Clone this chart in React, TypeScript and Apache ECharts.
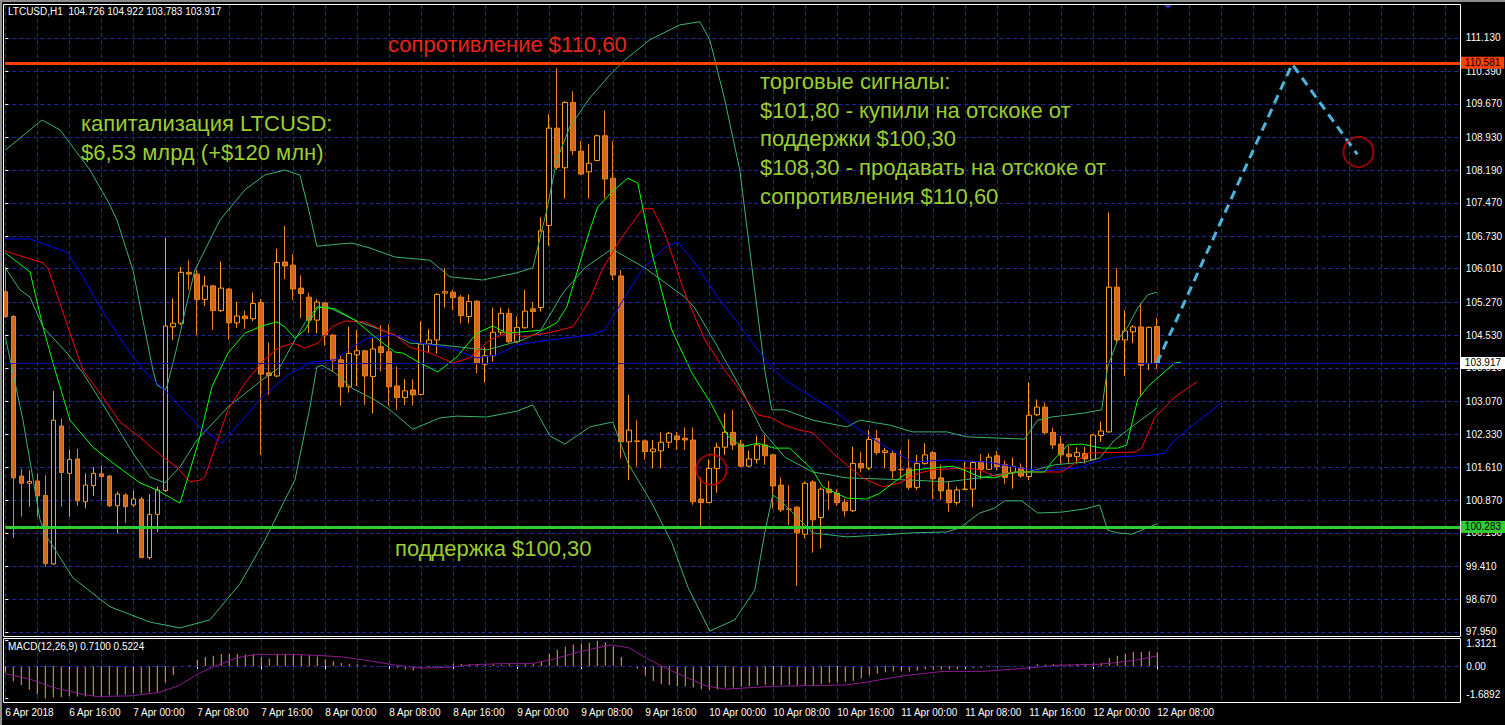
import React, { useEffect, useRef } from 'react';
import * as echarts from 'echarts';

// ---------- data ----------
// hourly LTCUSD candles, 6 Apr 2018 08:00 .. 12 Apr 2018 08:00: [open, close, low, high]
const candles: number[][] = [
  [105.50, 104.95, 104.92, 106.05], [104.95, 101.37, 100.04, 104.98], [101.41, 101.25, 100.51, 101.57], [101.25, 101.29, 100.73, 101.54],
  [101.30, 100.97, 100.51, 101.47], [100.98, 99.47, 99.40, 101.43], [99.46, 102.65, 99.44, 103.30], [102.52, 101.49, 100.73, 102.68],
  [101.47, 101.78, 100.51, 101.99], [101.79, 100.86, 100.75, 102.01], [100.84, 101.21, 100.69, 101.47], [101.20, 101.47, 100.97, 101.61],
  [101.46, 101.40, 100.86, 101.65], [101.41, 100.75, 100.72, 101.43], [100.75, 101.01, 100.14, 101.06], [100.99, 100.73, 100.37, 101.03],
  [100.77, 100.90, 100.72, 101.09], [100.90, 99.60, 99.59, 100.95], [99.60, 100.56, 99.56, 101.01], [100.56, 101.10, 100.17, 101.17],
  [101.09, 104.74, 101.06, 106.70], [104.72, 104.80, 104.43, 105.35], [104.80, 105.93, 104.76, 106.05], [105.93, 105.89, 105.54, 106.20],
  [105.89, 105.33, 104.54, 105.99], [105.33, 105.63, 105.18, 105.85], [105.63, 105.08, 104.65, 105.65], [105.08, 105.58, 105.05, 106.17],
  [105.56, 104.81, 104.43, 105.58], [104.81, 104.96, 104.70, 105.28], [104.96, 104.90, 104.68, 105.08], [104.90, 105.24, 104.85, 105.48],
  [105.26, 103.67, 101.88, 105.34], [103.70, 103.64, 103.21, 104.37], [103.63, 106.15, 103.60, 106.45], [106.16, 106.07, 105.78, 106.96],
  [106.09, 105.56, 105.32, 106.34], [105.58, 105.46, 104.92, 105.87], [105.38, 104.87, 104.58, 105.48], [104.87, 105.27, 104.58, 105.33],
  [105.25, 104.54, 104.30, 105.27], [104.54, 103.97, 103.73, 104.56], [103.99, 103.39, 102.97, 104.10], [103.39, 104.13, 103.26, 104.72],
  [104.10, 104.19, 103.41, 104.65], [104.19, 103.63, 102.99, 104.21], [103.62, 104.23, 102.80, 104.47], [104.28, 104.15, 103.73, 104.76],
  [104.17, 103.39, 102.97, 104.78], [103.41, 103.15, 102.88, 103.84], [103.15, 103.30, 102.99, 103.56], [103.32, 103.21, 102.97, 103.56],
  [103.22, 104.34, 103.20, 104.84], [104.34, 104.43, 104.15, 104.67], [104.43, 105.44, 104.12, 105.47], [105.47, 105.50, 105.15, 106.02],
  [105.49, 105.37, 105.09, 105.55], [105.38, 104.97, 104.80, 105.43], [104.95, 105.28, 104.80, 105.44], [105.29, 103.91, 103.69, 105.31],
  [103.89, 104.08, 103.48, 104.27], [104.08, 104.60, 103.95, 105.15], [104.60, 105.02, 104.54, 105.15], [105.02, 104.39, 104.36, 105.13],
  [104.39, 104.71, 104.36, 104.95], [104.70, 105.07, 104.68, 105.54], [105.12, 105.06, 104.70, 105.27], [105.15, 106.85, 105.06, 107.15],
  [106.97, 109.13, 106.52, 109.44], [109.13, 108.26, 108.20, 110.46], [108.25, 109.70, 107.57, 109.73], [109.70, 108.63, 108.53, 109.95],
  [108.62, 108.11, 108.09, 108.84], [108.16, 108.35, 107.57, 108.78], [108.41, 108.96, 108.40, 108.99], [108.96, 108.00, 107.57, 109.52],
  [108.02, 105.87, 105.76, 108.84], [105.85, 102.17, 101.80, 105.98], [102.17, 102.43, 101.32, 103.21], [102.19, 102.18, 101.62, 102.65],
  [102.19, 101.95, 101.77, 102.22], [101.95, 102.01, 101.58, 102.21], [101.97, 102.16, 101.58, 102.38], [102.16, 102.36, 102.03, 102.39],
  [102.30, 102.22, 101.99, 102.39], [102.25, 102.21, 101.99, 102.49], [102.21, 100.84, 100.77, 102.49], [100.90, 100.82, 100.30, 101.38],
  [100.82, 101.58, 100.81, 101.78], [101.58, 102.05, 101.04, 102.15], [102.05, 102.38, 101.88, 102.80], [102.38, 102.10, 101.99, 102.88],
  [102.12, 101.63, 101.60, 102.21], [101.63, 101.79, 101.61, 101.97], [101.78, 102.10, 101.69, 102.30], [102.10, 101.86, 101.66, 102.32],
  [101.88, 101.19, 100.69, 101.90], [101.21, 100.66, 100.61, 101.38], [100.68, 100.67, 100.32, 101.21], [100.72, 100.15, 98.97, 100.74],
  [100.12, 101.25, 100.03, 101.29], [101.28, 100.44, 99.71, 101.32], [100.49, 101.12, 99.80, 101.16], [101.12, 101.04, 100.66, 101.30],
  [101.03, 100.82, 100.75, 101.12], [100.83, 100.64, 100.51, 100.91], [100.64, 101.69, 100.61, 102.06], [101.69, 101.59, 101.49, 101.95],
  [101.59, 102.22, 101.54, 102.43], [102.24, 101.93, 101.88, 102.43], [101.93, 101.97, 101.58, 102.04], [101.91, 101.53, 101.35, 101.99],
  [101.56, 101.55, 101.34, 101.99], [101.57, 101.16, 101.10, 102.23], [101.16, 101.69, 101.10, 101.88], [101.69, 101.88, 101.66, 102.14],
  [101.93, 101.35, 100.90, 101.97], [101.37, 101.08, 100.88, 101.66], [101.10, 100.82, 100.62, 101.29], [100.82, 101.10, 100.77, 101.17],
  [101.11, 101.12, 101.10, 101.73], [101.12, 101.71, 100.72, 101.75], [101.73, 101.56, 101.34, 101.90], [101.56, 101.83, 101.54, 101.91],
  [101.86, 101.62, 101.54, 101.97], [101.66, 101.38, 101.23, 101.75], [101.48, 101.62, 101.13, 101.82], [101.60, 101.41, 101.37, 101.69],
  [101.40, 102.76, 101.32, 103.49], [102.77, 102.94, 102.74, 103.11], [102.94, 102.37, 102.34, 103.04], [102.38, 102.10, 102.01, 102.49],
  [102.12, 101.88, 101.69, 102.30], [101.90, 101.84, 101.69, 102.08], [101.84, 101.93, 101.69, 102.05], [101.91, 101.79, 101.69, 102.06],
  [101.78, 102.32, 101.77, 102.34], [102.31, 102.41, 102.17, 102.62], [102.39, 105.60, 102.37, 107.26], [105.60, 104.43, 104.36, 106.02],
  [104.43, 104.63, 103.63, 105.09], [104.61, 104.72, 104.36, 104.76], [104.72, 103.87, 103.19, 105.24], [103.91, 104.71, 103.76, 104.73],
  [104.726, 103.917, 103.783, 104.922],
];

// Bollinger bands, [bar index, price]
const bbUpper: number[][] = [
  [0, 108.64], [4.59, 109.31], [6.84, 109.09], [10.59, 108.20], [13.09, 107.42], [13.96, 107.09], [15.96, 105.98], [17.21, 104.87],
  [18.46, 103.76], [18.96, 103.43], [19.96, 103.32], [20.21, 103.39], [21.46, 104.27], [22.71, 105.25], [23.71, 105.98], [26.84, 107.09],
  [29.96, 107.76], [32.46, 108.09], [34.96, 108.20], [36.84, 108.09], [38.09, 107.20], [38.96, 106.51], [41.84, 106.56], [43.34, 106.58],
  [45.59, 106.47], [48.71, 106.27], [53.09, 106.20], [55.59, 105.83], [59.71, 105.76], [63.96, 105.92], [65.96, 106.03], [67.71, 107.31],
  [68.96, 108.42], [70.59, 109.16], [73.09, 109.80], [75.59, 110.31], [77.46, 110.64], [80.59, 111.09], [84.34, 111.42], [86.84, 111.49],
  [88.09, 111.09], [89.96, 109.76], [91.84, 108.20], [93.71, 105.54], [94.96, 103.76], [95.84, 102.88], [97.46, 102.88], [100.96, 102.65],
  [105.21, 102.50], [106.84, 102.65], [110.59, 102.54], [113.46, 102.39], [117.71, 102.39], [120.21, 102.28], [127.46, 102.23], [129.09, 102.65],
  [130.84, 102.72], [134.96, 102.81], [137.09, 102.88], [137.84, 103.83], [139.09, 104.43], [140.34, 104.72], [141.59, 105.14], [142.84, 105.43],
  [144, 105.49],
];
const bbMiddle: number[][] = [
  [0, 106.03], [1.84, 105.54], [3.09, 105.38], [4.71, 104.72], [7.71, 104.14], [9.71, 103.70], [11.84, 103.10], [13.96, 102.50],
  [15.96, 101.92], [18.09, 101.39], [19.96, 101.26], [21.84, 101.61], [23.96, 102.21], [27.84, 102.94], [32.09, 103.54], [34.34, 103.83],
  [36.21, 104.43], [37.46, 104.81], [38.96, 105.16], [40.34, 105.16], [43.71, 104.87], [48.71, 104.54], [50.59, 104.36], [54.34, 104.32],
  [60.21, 104.21], [64.71, 104.43], [66.84, 104.61], [69.71, 105.47], [72.46, 106.03], [75.84, 106.45], [79.96, 106.03], [84.96, 105.38],
  [86.21, 105.14], [89.09, 104.27], [92.09, 103.32], [94.59, 102.43], [97.46, 101.83], [100.96, 101.50], [105.21, 101.37], [113.46, 101.32],
  [117.71, 101.28], [121.84, 101.37], [125.34, 101.48], [127.84, 101.50], [131.21, 101.66], [134.96, 101.72], [136.84, 101.81], [138.71, 102.21],
  [140.84, 102.50], [144, 102.92],
];
const bbLower: number[][] = [
  [0, 104.50], [2.21, 102.65], [4.34, 100.44], [5.21, 100.06], [8.46, 99.15], [13.09, 98.51], [18.09, 98.17], [21.84, 98.04],
  [25.59, 98.22], [29.34, 99.02], [32.46, 99.99], [34.96, 100.88], [36.21, 101.32], [38.09, 102.94], [38.96, 103.83], [39.59, 103.87],
  [41.21, 103.70], [43.34, 103.36], [46.21, 103.10], [48.09, 102.88], [50.96, 102.45], [54.34, 102.70], [56.46, 102.74], [60.21, 102.72],
  [63.96, 102.85], [65.96, 102.99], [68.09, 102.30], [69.96, 102.12], [73.09, 102.50], [75.96, 102.61], [77.84, 101.70], [80.84, 100.81],
  [83.34, 99.93], [85.34, 98.95], [88.09, 97.97], [91.21, 98.22], [93.71, 98.88], [94.96, 100.15], [95.96, 100.99], [96.84, 100.88],
  [100.96, 100.15], [105.21, 100.06], [109.34, 100.10], [113.46, 100.15], [117.71, 100.17], [119.34, 100.26], [121.84, 100.59], [123.71, 100.70],
  [124.96, 100.86], [127.09, 100.86], [129.09, 100.59], [132.09, 100.61], [134.96, 100.68], [136.84, 100.77], [137.84, 100.21], [139.09, 100.15],
  [140.84, 100.12], [142.09, 100.21], [144, 100.35],
];

// Alligator lines (lips / teeth / jaw), shifted forward, [bar index, price]
const lips: number[][] = [
  [0, 106.36], [3.09, 105.94], [4.71, 104.72], [5.96, 103.92], [8.09, 102.65], [10.96, 102.05], [13.46, 101.70], [16.84, 101.26],
  [18.96, 101.10], [21.84, 100.81], [22.84, 101.39], [24.34, 102.28], [25.84, 103.39], [27.84, 104.14], [29.96, 104.58], [32.09, 104.74],
  [33.96, 104.83], [34.96, 104.72], [36.21, 104.47], [37.46, 104.65], [39.09, 105.16], [41.21, 105.12], [43.71, 104.87], [46.21, 104.50],
  [48.71, 104.16], [49.71, 104.14], [51.84, 103.92], [54.09, 103.72], [56.46, 104.05], [58.96, 104.58], [60.96, 104.74], [62.71, 104.58],
  [64.71, 104.61], [67.21, 104.65], [68.96, 104.81], [70.21, 105.16], [71.46, 105.92], [73.09, 106.87], [74.09, 107.38], [75.84, 107.71],
  [77.84, 108.02], [79.09, 107.91], [80.84, 106.36], [83.34, 104.65], [85.84, 103.70], [88.34, 102.99], [90.34, 102.30], [92.09, 102.06],
  [94.09, 102.14], [96.21, 102.03], [98.09, 102.03], [100.96, 101.54], [102.21, 101.17], [105.21, 100.92], [107.71, 100.90], [109.34, 101.03],
  [111.84, 101.37], [113.46, 101.54], [115.96, 101.59], [118.46, 101.63], [120.21, 101.52], [121.84, 101.39], [123.71, 101.37], [126.21, 101.50],
  [129.96, 101.50], [130.84, 101.72], [132.84, 102.10], [134.59, 102.12], [137.09, 102.03], [139.09, 102.03], [140.21, 102.10], [141.59, 103.10],
  [142.84, 103.39], [146.21, 103.92], [147, 103.94],
];
const teeth: number[][] = [
  [0, 106.40], [4.71, 106.14], [5.34, 106.03], [8.09, 104.58], [9.71, 103.76], [11.84, 103.25], [14.34, 102.61], [16.84, 102.27],
  [19.71, 101.83], [21.46, 101.61], [23.09, 101.28], [24.34, 101.32], [24.96, 101.39], [27.84, 102.88], [29.96, 103.47], [32.09, 103.94],
  [34.09, 104.25], [35.96, 104.36], [37.46, 104.25], [39.09, 104.36], [40.84, 104.72], [42.46, 104.85], [44.96, 104.83], [47.09, 104.65],
  [48.71, 104.54], [50.59, 104.27], [53.09, 104.14], [55.96, 103.92], [58.09, 104.03], [60.59, 104.43], [63.09, 104.61], [64.71, 104.50],
  [67.71, 104.58], [70.96, 104.72], [73.09, 105.32], [74.59, 105.98], [77.09, 106.71], [79.71, 107.34], [80.96, 107.34], [82.46, 106.80],
  [84.96, 105.47], [87.46, 104.43], [89.96, 103.76], [92.09, 103.25], [94.09, 102.77], [95.84, 102.70], [97.46, 102.54], [99.34, 102.43],
  [100.96, 102.37], [103.46, 101.92], [105.21, 101.66], [107.21, 101.37], [109.71, 101.17], [111.84, 101.26], [114.34, 101.48], [115.96, 101.55],
  [120.21, 101.59], [121.84, 101.55], [123.71, 101.41], [126.21, 101.50], [132.09, 101.50], [133.71, 101.70], [135.34, 101.92], [141.21, 101.94],
  [142.09, 102.03], [143.71, 102.70], [146.21, 103.16], [149, 103.50],
];
const jaw: number[][] = [
  [0, 106.67], [3.09, 106.67], [7.71, 106.38], [9.71, 105.83], [11.84, 105.16], [13.96, 104.58], [15.96, 104.05], [18.09, 103.61],
  [20.21, 103.27], [22.21, 102.88], [24.34, 102.50], [27.09, 102.14], [29.96, 102.72], [32.09, 103.16], [35.34, 103.65], [38.34, 103.94],
  [41.21, 103.99], [43.34, 104.27], [45.34, 104.47], [48.71, 104.54], [51.84, 104.36], [55.59, 104.25], [58.96, 104.03], [61.46, 104.10],
  [63.96, 104.32], [68.09, 104.43], [73.09, 104.54], [74.96, 104.65], [77.46, 105.38], [79.59, 105.98], [82.46, 106.49], [84.09, 106.60],
  [86.21, 106.14], [89.09, 105.38], [91.59, 104.81], [94.09, 104.21], [95.84, 103.83], [97.46, 103.54], [101.46, 103.10], [103.46, 102.88],
  [106.46, 102.48], [109.34, 102.14], [111.84, 101.88], [113.46, 101.72], [117.71, 101.77], [122.84, 101.72], [126.21, 101.61], [129.59, 101.52],
  [134.09, 101.59], [136.21, 101.72], [138.71, 101.83], [143.71, 101.88], [144.96, 101.92], [146.21, 102.21], [152, 103.03],
];

// MACD(12,26,9): main (histogram) per bar and signal line
const macdMain: number[] = [
  -0.35, -0.79, -0.98, -1.23, -1.46, -1.6892, -1.63, -1.60, -1.55, -1.58, -1.58, -1.55, -1.55, -1.51, -1.51, -1.48,
  -1.42, -1.42, -1.37, -1.34, -0.84, -0.46, -0.05, 0.04, 0.32, 0.47, 0.53, 0.62, 0.63, 0.63, 0.60, 0.62,
  0.47, 0.39, 0.60, 0.60, 0.60, 0.56, 0.56, 0.49, 0.35, 0.25, 0.16, 0.12, 0.09, 0.04, 0.00, -0.02,
  -0.04, -0.11, -0.18, -0.23, -0.11, -0.07, -0.04, 0.04, 0.12, 0.11, 0.09, 0.09, 0.09, 0.09, 0.07, 0.09,
  0.07, 0.09, 0.11, 0.25, 0.63, 0.83, 1.00, 1.12, 1.16, 1.21, 1.3121, 1.23, 1.00, 0.47, 0.00, -0.14,
  -0.49, -0.76, -0.93, -0.98, -1.05, -1.05, -1.11, -1.20, -1.23, -1.20, -1.11, -1.11, -1.07, -1.05, -0.98, -0.98,
  -1.02, -0.98, -0.98, -0.98, -0.98, -0.98, -0.93, -0.88, -0.84, -0.81, -0.76, -0.63, -0.46, -0.40, -0.32, -0.28,
  -0.28, -0.28, -0.23, -0.18, -0.18, -0.18, -0.18, -0.18, -0.11, -0.11, -0.11, -0.07, -0.07, -0.04, -0.04, -0.04,
  0.00, 0.09, 0.07, 0.11, 0.09, 0.07, 0.11, 0.12, 0.14, 0.16, 0.42, 0.53, 0.63, 0.72, 0.72, 0.77, 0.71,
];
const macdSignal: number[][] = [
  [0, -0.40], [3, -0.67], [6, -1.11], [9.6, -1.46], [11.4, -1.58], [15.6, -1.55], [19.2, -1.37], [21.7, -1.02],
  [24.1, -0.40], [26.5, 0.04], [28.9, 0.42], [31.3, 0.60], [35.6, 0.60], [38.6, 0.56], [42.2, 0.47], [45.8, 0.25],
  [48.8, 0.04], [51.9, -0.11], [55.5, -0.07], [58.5, 0.07], [62.1, 0.12], [65.8, 0.12], [68.8, 0.39], [71.8, 0.74],
  [75.7, 1.09], [77.9, 0.95], [80.2, 0.39], [82.7, -0.14], [85.1, -0.58], [87.5, -1.02], [90, -1.20], [96.1, -1.05],
  [100.3, -1.02], [105.2, -0.98], [107.6, -0.84], [112.5, -0.49], [117.2, -0.28], [122.1, -0.28], [126.8, -0.14], [131.7, 0.04],
  [136.6, 0.09], [139, 0.18], [141.3, 0.30], [144, 0.5224],
];

// levels and annotations
const resistanceLevel = 110.581;
const supportLevel = 100.283;
const forecastPath: number[][] = [[144, 103.917], [160.9, 110.55], [169.05, 108.55]];
const circleMarks: number[][] = [[88.3, 101.55], [169.2, 108.6]];

// tick labels
const priceTicks: number[] = [97.95, 98.67, 99.41, 100.15, 100.87, 101.61, 102.33, 103.07, 103.81, 104.53,
  105.27, 106.01, 106.73, 107.47, 108.19, 108.93, 109.67, 110.39, 111.13];
const macdTickValues: number[] = [-1.6892, 0, 1.3121];
const macdTickLabels: string[] = ['-1.6892', '0.00', '1.3121'];
const timeLabels: string[] = ['6 Apr 2018', '6 Apr 16:00', '7 Apr 00:00', '7 Apr 08:00', '7 Apr 16:00', '8 Apr 00:00',
  '8 Apr 08:00', '8 Apr 16:00', '9 Apr 00:00', '9 Apr 08:00', '9 Apr 16:00', '10 Apr 00:00', '10 Apr 08:00',
  '10 Apr 16:00', '11 Apr 00:00', '11 Apr 08:00', '11 Apr 16:00', '12 Apr 00:00', '12 Apr 08:00'];

const resistanceText = 'сопротивление $110,60';
const capText = ['капитализация LTCUSD:', '$6,53 млрд (+$120 млн)'];
const signalText = ['торговые сигналы:', '$101,80 - купили на отскоке от', 'поддержки $100,30',
  '$108,30 - продавать на отскоке от', 'сопротивления $110,60'];
const supportText = 'поддержка $100,30';

// ---------- layout ----------
const SLOTS = 183;
const LABEL_STEP = 8;
const categories = Array.from({ length: SLOTS }, (_, i) => String(i));
const FONT = '"Liberation Sans", Arial, sans-serif';
const TFONT = '"Liberation Sans", Arial, sans-serif';
const SMALL = 10;
const GRID = '#1f2a9c';
const GREENTXT = '#9acd32';

function buildOption() {
  const last = candles[candles.length - 1];
  const lastPrice = last[1];
  const lineSeries = (name: string, data: number[][], color: string) => ({
    name, type: 'line', xAxisIndex: 2, yAxisIndex: 0, data, showSymbol: false, symbol: 'none',
    lineStyle: { color, width: 1 }, silent: true, z: 3,
  });
  const txt = (text: string, x: number, y: number, fill: string) => ({
    type: 'text', x, y, z: 100,
    style: { text, fill, fontSize: 22, fontFamily: TFONT, verticalAlign: 'middle', align: 'left' },
  });
  const labelIdx = (i: number) => i % LABEL_STEP === 0 && i / LABEL_STEP < timeLabels.length;
  const boxLabel = (text: string, bg: string) => ({
    show: true, position: 'end', distance: 0, formatter: text, backgroundColor: bg, color: '#000',
    padding: [1, 4, 1, 4], fontFamily: FONT, fontSize: SMALL,
  });

  return {
    animation: false,
    backgroundColor: '#000',
    grid: [
      { left: 5.3, top: 5, width: 1456, height: 631 },
      { left: 5.3, top: 639, width: 1456, height: 64 },
    ],
    xAxis: [
      {
        type: 'category', gridIndex: 0, data: categories, boundaryGap: false,
        axisLine: { show: false }, axisTick: { show: false }, axisLabel: { show: false },
        splitLine: { show: true, interval: 3, lineStyle: { color: GRID, type: [4, 3], width: 1 } },
      },
      {
        type: 'category', gridIndex: 1, data: categories, boundaryGap: false,
        axisLine: { show: false },
        axisTick: { show: true, interval: (i: number) => labelIdx(i), length: 3, lineStyle: { color: '#fff' } },
        axisLabel: {
          show: true, interval: (i: number) => labelIdx(i), margin: 4, align: 'left',
          color: '#fff', fontFamily: FONT, fontSize: SMALL,
          formatter: (_v: string, i: number) => (labelIdx(i) ? timeLabels[i / LABEL_STEP] : ''),
        },
        splitLine: { show: true, interval: 3, lineStyle: { color: GRID, type: [4, 3], width: 1 } },
      },
      { type: 'value', gridIndex: 0, min: 0, max: SLOTS - 1, show: false },
      { type: 'value', gridIndex: 1, min: 0, max: SLOTS - 1, show: false },
    ],
    yAxis: [
      {
        type: 'value', gridIndex: 0, position: 'right', min: 97.8612, max: 111.8617,
        axisLine: { show: false },
        axisTick: { show: true, length: 3, customValues: priceTicks, lineStyle: { color: '#fff' } },
        axisLabel: {
          customValues: priceTicks, margin: 5, color: '#fff', fontFamily: FONT, fontSize: SMALL,
          formatter: (v: number) => v.toFixed(3),
        },
        splitLine: { show: true, lineStyle: { color: GRID, type: [4, 3], width: 1 } },
      },
      {
        type: 'value', gridIndex: 1, position: 'right', min: -1.917, max: 1.399,
        axisLine: { show: false },
        axisTick: { show: true, length: 3, customValues: macdTickValues, lineStyle: { color: '#fff' } },
        axisLabel: {
          customValues: macdTickValues, margin: 5, color: '#fff', fontFamily: FONT, fontSize: SMALL,
          formatter: (v: number) => {
            const i = macdTickValues.indexOf(v);
            const s = i >= 0 ? macdTickLabels[i] : String(v);
            if (v > 0) return '{t|' + s + '}';
            if (v < 0) return '{b|' + s + '}';
            return s;
          },
          rich: {
            t: { padding: [5, 0, 0, 0], color: '#fff', fontFamily: FONT, fontSize: SMALL },
            b: { padding: [0, 0, 8, 0], color: '#fff', fontFamily: FONT, fontSize: SMALL },
          },
        },
        splitLine: { show: false },
      },
    ],
    series: [
      {
        name: 'LTCUSD', type: 'candlestick', xAxisIndex: 0, yAxisIndex: 0, data: candles, barWidth: 5, clip: true,
        itemStyle: { color: '#000', color0: '#d2691e', borderColor: '#ff9a1a', borderColor0: '#e8821e', borderWidth: 1 },
        markLine: {
          silent: true, symbol: 'none', animation: false,
          data: [
            { yAxis: resistanceLevel, lineStyle: { color: '#ff4000', width: 3, type: 'solid' }, label: boxLabel(resistanceLevel.toFixed(3), '#ff4000') },
            { yAxis: supportLevel, lineStyle: { color: '#32cd32', width: 3, type: 'solid' }, label: boxLabel(supportLevel.toFixed(3), '#32cd32') },
            { yAxis: lastPrice, lineStyle: { color: '#0c0ca8', width: 1, type: 'solid' }, label: boxLabel(lastPrice.toFixed(3), '#fff') },
          ],
        },
      },
      lineSeries('BB upper', bbUpper, '#3cb371'),
      lineSeries('BB middle', bbMiddle, '#3cb371'),
      lineSeries('BB lower', bbLower, '#3cb371'),
      lineSeries('Jaw', jaw, '#0000ff'),
      lineSeries('Teeth', teeth, '#ff0000'),
      lineSeries('Lips', lips, '#00ff00'),
      {
        name: 'forecast', type: 'line', xAxisIndex: 2, yAxisIndex: 0, data: forecastPath, showSymbol: false, symbol: 'none',
        lineStyle: { color: '#4cb4dc', width: 3, type: [9, 6] }, silent: true, z: 4,
      },
      {
        name: 'marks', type: 'scatter', xAxisIndex: 2, yAxisIndex: 0, data: circleMarks, symbol: 'circle', symbolSize: 30,
        itemStyle: { color: 'rgba(0,0,0,0)', borderColor: '#c00000', borderWidth: 2 }, silent: true, z: 5,
      },
      {
        name: 'MACD', type: 'bar', xAxisIndex: 1, yAxisIndex: 1, data: macdMain, barWidth: 1,
        itemStyle: { color: '#f5a623' }, silent: true,
        markLine: {
          silent: true, symbol: 'none', label: { show: false },
          lineStyle: { color: GRID, type: [4, 3], width: 1 }, data: [{ yAxis: 0 }],
        },
      },
      {
        name: 'Signal', type: 'line', xAxisIndex: 3, yAxisIndex: 1, data: macdSignal, showSymbol: false, symbol: 'none',
        lineStyle: { color: '#8e1a8e', width: 1 }, silent: true, z: 4,
      },
    ],
    graphic: [
      { type: 'rect', z: 90, shape: { x: 0, y: 0, width: 1505, height: 2 }, style: { fill: '#8c8c8c' } },
      { type: 'rect', z: 90, shape: { x: 0, y: 0, width: 2, height: 725 }, style: { fill: '#8c8c8c' } },
      { type: 'rect', z: 90, shape: { x: 3.5, y: 4.5, width: 1457, height: 632 }, style: { fill: 'none', stroke: '#fff', lineWidth: 1 } },
      { type: 'rect', z: 90, shape: { x: 3.5, y: 638.5, width: 1457, height: 64 }, style: { fill: 'none', stroke: '#fff', lineWidth: 1 } },
      { type: 'polygon', z: 90, shape: { points: [[1164, 5], [1172, 5], [1168, 9]] }, style: { fill: '#2a2ab8' } },
      {
        type: 'text', x: 8, y: 11, z: 100,
        style: { text: `LTCUSD,H1  ${last[0].toFixed(3)} ${last[3].toFixed(3)} ${last[2].toFixed(3)} ${last[1].toFixed(3)}`, fill: '#fff', fontSize: SMALL, fontFamily: FONT, verticalAlign: 'middle' },
      },
      {
        type: 'text', x: 8, y: 646, z: 100,
        style: { text: `MACD(12,26,9) ${macdMain[macdMain.length - 1].toFixed(4)} ${macdSignal[macdSignal.length - 1][1].toFixed(4)}`, fill: '#fff', fontSize: SMALL, fontFamily: FONT, verticalAlign: 'middle' },
      },
      txt(resistanceText, 388, 44, '#e8241c'),
      txt(capText[0], 81, 123, GREENTXT),
      txt(capText[1], 81, 152, GREENTXT),
      ...signalText.map((s, i) => txt(s, 760, [81, 110, 138, 167, 196][i], GREENTXT)),
      txt(supportText, 395, 548, GREENTXT),
    ],
  };
}

export default function App() {
  const ref = useRef<HTMLDivElement>(null);
  useEffect(() => {
    if (!ref.current) return;
    const chart = echarts.init(ref.current, undefined, { renderer: 'svg' });
    chart.setOption(buildOption() as any);
    return () => chart.dispose();
  }, []);
  return (
    <div
      ref={ref}
      style={{ position: 'fixed', left: 0, top: 0, width: 1505, height: 725, background: '#000' }}
    />
  );
}
